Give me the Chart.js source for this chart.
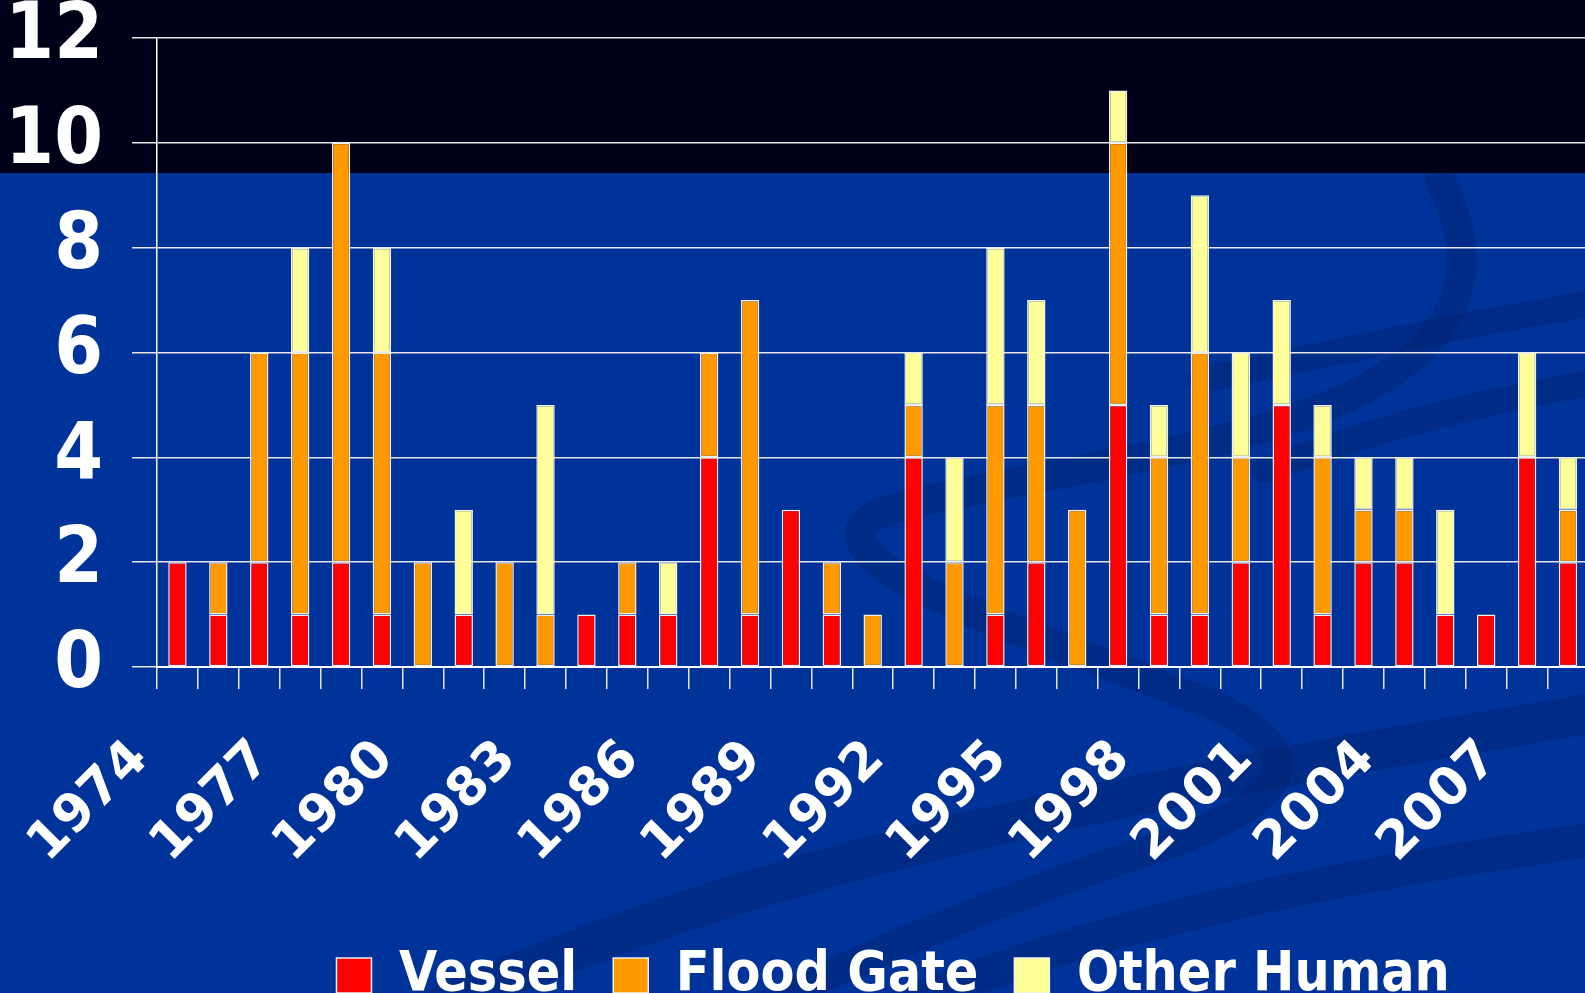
<!DOCTYPE html>
<html>
<head>
<meta charset="utf-8">
<script src="https://cdn.jsdelivr.net/npm/chart.js@4.4.1/dist/chart.umd.min.js"></script>
<style>
  html, body { margin: 0; padding: 0; overflow: hidden; background: #003399; }
  #chart { display: block; }
</style>
</head>
<body>
<canvas id="chart" width="1693" height="993"></canvas>
<script>
// years on the x axis (only every 3rd one is labelled)
const years = [1974, 1975, 1976, 1977, 1978, 1979, 1980, 1981, 1982, 1983, 1984, 1985,
    1986, 1987, 1988, 1989, 1990, 1991, 1992, 1993, 1994, 1995, 1996, 1997,
    1998, 1999, 2000, 2001, 2002, 2003, 2004, 2005, 2006, 2007, 2008, 2009];

// stacked counts per year
const vessel = [2, 1, 2, 1, 2, 1, 0, 1, 0, 0, 1, 1, 1, 4, 1, 3, 1, 0, 4, 0, 1, 2, 0, 5, 1, 1, 2, 5, 1, 2, 2, 1, 1, 4, 2];
const floodGate = [0, 1, 4, 5, 8, 5, 2, 0, 2, 1, 0, 1, 0, 2, 6, 0, 1, 1, 1, 2, 4, 3, 3, 5, 3, 5, 2, 0, 3, 1, 1, 0, 0, 0, 1];
const otherHuman = [0, 0, 0, 2, 0, 2, 0, 2, 0, 4, 0, 0, 1, 0, 0, 0, 0, 0, 1, 2, 3, 2, 0, 1, 1, 3, 2, 2, 1, 1, 1, 2, 0, 2, 1];

const yTicks = [0, 2, 4, 6, 8, 10, 12];

// slide background: dark band on top, blue below, with faint swirls
const slideBackground = {
    id: 'slideBackground',
    beforeDraw(chart) {
        const c = chart.ctx;
        const w = chart.width, h = chart.height;
        c.save();
        c.fillStyle = '#003399';
        c.fillRect(0, 0, w, h);

        c.strokeStyle = 'rgba(0, 30, 100, 0.32)';
        c.lineCap = 'round';
        c.lineWidth = 30;
        c.beginPath();
        c.moveTo(1440, 180);
        c.bezierCurveTo(1500, 300, 1440, 390, 1200, 445);
        c.bezierCurveTo(1000, 490, 870, 500, 860, 530);
        c.bezierCurveTo(850, 580, 1050, 640, 1200, 700);
        c.bezierCurveTo(1320, 750, 1300, 800, 1150, 850);
        c.bezierCurveTo(1000, 900, 850, 960, 760, 1010);
        c.stroke();

        c.lineWidth = 26;
        c.beginPath();
        c.moveTo(1200, 380);
        c.bezierCurveTo(1350, 350, 1480, 320, 1700, 285);
        c.stroke();
        c.beginPath();
        c.moveTo(1265, 470);
        c.bezierCurveTo(1400, 420, 1500, 395, 1700, 365);
        c.stroke();

        c.lineWidth = 40;
        c.beginPath();
        c.moveTo(420, 1015);
        c.bezierCurveTo(800, 840, 1200, 780, 1700, 695);
        c.stroke();
        c.lineWidth = 34;
        c.beginPath();
        c.moveTo(880, 1015);
        c.bezierCurveTo(1100, 920, 1350, 870, 1700, 825);
        c.stroke();

        c.fillStyle = '#000018';
        c.fillRect(0, 0, w, 173);
        c.restore();
    }
};

const ctx = document.getElementById('chart');
new Chart(ctx, {
    type: 'bar',
    data: {
        labels: years.map(String),
        datasets: [
            { label: 'Vessel', data: vessel, backgroundColor: '#FF0000' },
            { label: 'Flood Gate', data: floodGate, backgroundColor: '#FF9900' },
            { label: 'Other Human', data: otherHuman, backgroundColor: '#FFFF99' }
        ].map(ds => Object.assign(ds, {
            borderColor: '#F0F0F0',
            borderWidth: 1.5,
            borderSkipped: false,
            barPercentage: 0.45,
            categoryPercentage: 1
        }))
    },
    options: {
        responsive: false,
        animation: false,
        layout: { padding: { top: 38, right: 0, bottom: -20, left: 0 } },
        plugins: {
            tooltip: { enabled: false },
            legend: {
                position: 'bottom',
                fullSize: false,
                labels: {
                    color: '#FFFFFF',
                    boxWidth: 35,
                    boxHeight: 35,
                    padding: 36,
                    font: { family: 'DejaVu Sans Condensed', weight: 'bold', size: 55, lineHeight: 1 }
                }
            }
        },
        scales: {
            x: {
                stacked: true,
                afterFit: s => { s.height = 245; },
                border: { display: true, color: '#FFFFFF', width: 2 },
                grid: {
                    offset: true,
                    drawOnChartArea: false,
                    drawTicks: true,
                    tickLength: 22,
                    color: '#E8E8E8',
                    lineWidth: 1.5
                },
                ticks: {
                    autoSkip: false,
                    minRotation: 45,
                    maxRotation: 45,
                    padding: 40,
                    labelOffset: -37,
                    color: '#FFFFFF',
                    font: { family: 'DejaVu Sans', weight: 'bold', size: 52 },
                    callback: function (value, index) {
                        return index % 3 === 0 ? this.getLabelForValue(value) : '';
                    }
                }
            },
            y: {
                stacked: true,
                min: yTicks[0],
                max: yTicks[yTicks.length - 1],
                afterFit: s => {
                    s.width = 157;
                    s.paddingTop = 0;
                    s.paddingBottom = 0;
                },
                afterBuildTicks: s => { s.ticks = yTicks.map(v => ({ value: v })); },
                border: { display: true, color: '#FFFFFF', width: 1.5 },
                grid: {
                    color: '#E8E8E8',
                    lineWidth: 1.5,
                    drawTicks: true,
                    tickLength: 25
                },
                ticks: {
                    padding: 29,
                    color: '#FFFFFF',
                    font: { family: 'DejaVu Sans Condensed', weight: 'bold', size: 78, lineHeight: 1 }
                }
            }
        }
    },
    plugins: [slideBackground]
});
</script>
</body>
</html>
